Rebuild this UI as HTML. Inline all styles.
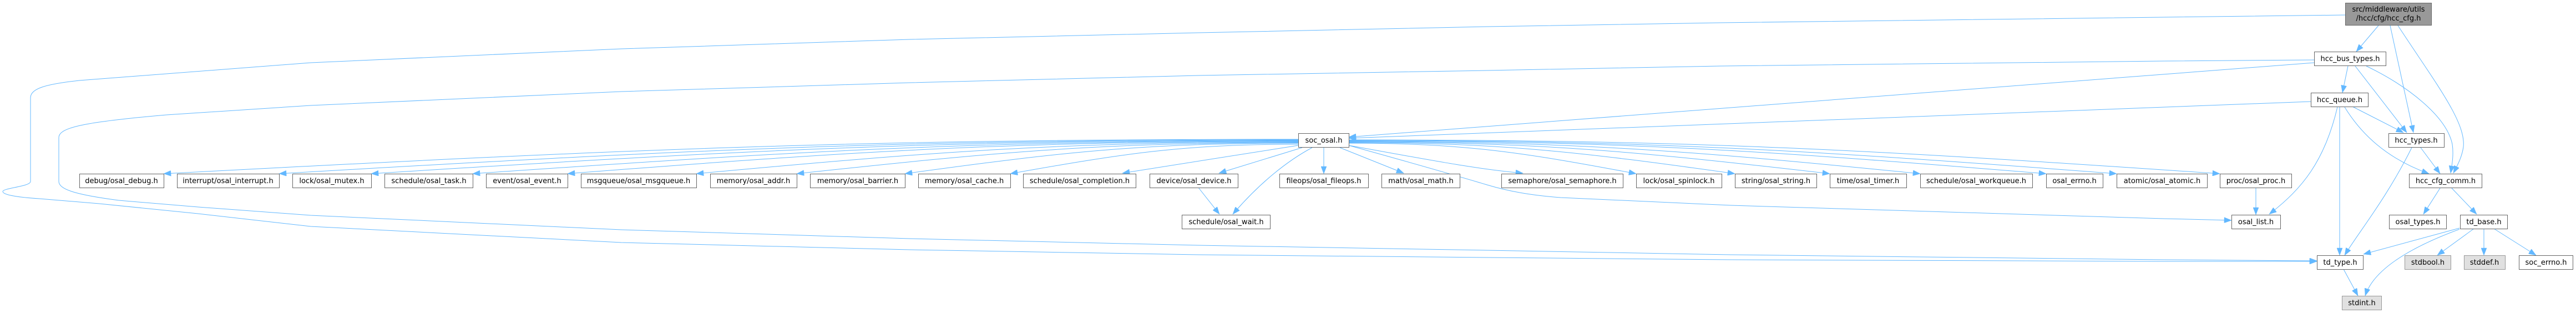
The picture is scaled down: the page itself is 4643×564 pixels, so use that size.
<!DOCTYPE html>
<html>
<head>
<meta charset="utf-8">
<style>
html,body{margin:0;padding:0;background:#fff;}
svg{display:block;}
text{font-family:"DejaVu Sans","Liberation Sans",sans-serif;font-size:13px;fill:#000;text-anchor:middle;}
.e{fill:none;stroke:#63b8ff;stroke-width:1;marker-end:url(#ah);}
.n{fill:#fff;stroke:#666;stroke-width:1;}
.g{fill:#e0e0e0;stroke:#999;stroke-width:1;}
.m{fill:#999;stroke:#666;stroke-width:1;}
</style>
</head>
<body>
<svg width="4643" height="564" viewBox="0 0 4643 564" xmlns="http://www.w3.org/2000/svg">
<defs>
<marker id="ah" markerUnits="userSpaceOnUse" markerWidth="14" markerHeight="10" viewBox="0 0 13 10" refX="13" refY="5" orient="auto">
<path d="M0,0 L13,5 L0,10 z" fill="#63b8ff" stroke="#63b8ff" stroke-width="0.5"/>
</marker>
</defs>

<!-- edges -->
<path class="e" d="M4287,46 L4247,93"/>
<path class="e" d="M4308,46 L4350,239"/>
<path class="e" d="M4322,46 C4390,150 4445,220 4440,265 C4437,285 4428,300 4422,312"/>
<path class="e" d="M4227,27 L3900,31 L3100,41 L2680,48 L2160,59 L1640,71 L1120,88 L560,113 L143,145 C80,152 55,160 55,176 L55,327 C55,336 5,339 5,345 C5,352 40,356 71,358 L179,367 L357,385 L560,408 L1120,437 L1640,450 L2160,459 L2680,464 L3120,468 L3900,471 L4176,471"/>
<path class="e" d="M4171,108 L3900,110 L3100,119 L2680,127 L2160,136 L1640,149 L1120,165 L560,190 L300,207 C150,220 106,230 106,248 L106,327 C106,340 130,350 214,361 L357,373 L560,388 L1120,414 L1640,430 L2160,442 L2680,451 L3120,459 L3900,468 L4176,470"/>
<path class="e" d="M4232,119 L4222,167"/>
<path class="e" d="M4245,119 L4338,239"/>
<path class="e" d="M4265,119 C4340,155 4410,210 4420,260 C4423,280 4419,300 4417,312"/>
<path class="e" d="M4171,113 L2431,247"/>
<path class="e" d="M4165,183 L2431,249"/>
<path class="e" d="M4240,192 L4332,239"/>
<path class="e" d="M4226,193 C4255,240 4300,285 4378,313"/>
<path class="e" d="M4217,192 L4217,460"/>
<path class="e" d="M4213,193 C4190,290 4150,340 4090,386"/>
<path class="e" d="M4363,266 L4398,313"/>
<path class="e" d="M4347,266 C4300,360 4250,420 4226,460"/>
<path class="e" d="M4398,339 L4368,386"/>
<path class="e" d="M4419,339 L4464,386"/>
<path class="e" d="M4433,411 L4260,458"/>
<path class="e" d="M4433,413 C4360,440 4280,480 4263,533"/>
<path class="e" d="M4459,412 L4393,460"/>
<path class="e" d="M4477,412 L4477,460"/>
<path class="e" d="M4495,412 L4571,460"/>
<path class="e" d="M4224,485 L4250,533"/>
<path class="e" d="M4066,338 L4066,387"/>
<path class="e" d="M2431,262 C2550,295 2620,315 2680,333 C2720,345 2760,352 2813,356 L3120,370 L3900,394 L4022,397"/>
<path class="e" d="M2347,266 L2197,312"/>
<path class="e" d="M2365,266 C2320,290 2270,330 2222,386"/>
<path class="e" d="M2386,266 L2386,313"/>
<path class="e" d="M2415,266 L2530,312"/>
<path class="e" d="M2160,338 L2198,386"/>
<path class="e" d="M2340,262 L2023,312"/>
<!-- soc_osal to left row -->
<path class="e" d="M2340,251 C1522,251 1113,270 295,313"/>
<path class="e" d="M2340,252 C1605,252 1238,270 503,313"/>
<path class="e" d="M2340,253 C1672,253 1337,271 669,313"/>
<path class="e" d="M2340,254 C1745,254 1447,272 852,313"/>
<path class="e" d="M2340,255 C1813,255 1550,272 1023,313"/>
<path class="e" d="M2340,256 C1906,256 1689,273 1255,313"/>
<path class="e" d="M2340,257 C1978,257 1798,274 1436,313"/>
<path class="e" d="M2340,258 C2056,258 1915,274 1631,313"/>
<path class="e" d="M2340,260 C2132,260 2029,276 1821,313"/>
<!-- soc_osal to right row -->
<path class="e" d="M2431,262 C2560,285 2660,305 2745,312"/>
<path class="e" d="M2431,258 C2638,258 2742,274 2949,313"/>
<path class="e" d="M2431,257 C2709,257 2849,274 3127,313"/>
<path class="e" d="M2431,256 C2778,256 2951,273 3298,313"/>
<path class="e" d="M2431,255 C2843,255 3049,272 3461,313"/>
<path class="e" d="M2431,254 C2934,254 3185,272 3688,313"/>
<path class="e" d="M2431,253 C2985,253 3261,271 3815,313"/>
<path class="e" d="M2431,252 C3059,252 3373,270 4001,313"/>

<!-- nodes -->
<rect class="m" x="4227.5" y="5.5" width="155" height="40"/>
<text x="4305" y="21">src/middleware/utils</text>
<text x="4305" y="37">/hcc/cfg/hcc_cfg.h</text>

<rect class="n" x="4171.5" y="93.5" width="129" height="25"/><text x="4236" y="110">hcc_bus_types.h</text>
<rect class="n" x="4165.5" y="167.5" width="103" height="25"/><text x="4217" y="184">hcc_queue.h</text>
<rect class="n" x="4305.5" y="240.5" width="100" height="25"/><text x="4355" y="257">hcc_types.h</text>
<rect class="n" x="2340.5" y="240.5" width="91" height="25"/><text x="2386" y="257">soc_osal.h</text>

<rect class="n" x="143.5" y="313.5" width="152" height="25"/><text x="219" y="330">debug/osal_debug.h</text>
<rect class="n" x="319.5" y="313.5" width="184" height="25"/><text x="411" y="330">interrupt/osal_interrupt.h</text>
<rect class="n" x="527.5" y="313.5" width="142" height="25"/><text x="598" y="330">lock/osal_mutex.h</text>
<rect class="n" x="693.5" y="313.5" width="159" height="25"/><text x="773" y="330">schedule/osal_task.h</text>
<rect class="n" x="876.5" y="313.5" width="147" height="25"/><text x="950" y="330">event/osal_event.h</text>
<rect class="n" x="1047.5" y="313.5" width="208" height="25"/><text x="1151" y="330">msgqueue/osal_msgqueue.h</text>
<rect class="n" x="1280.5" y="313.5" width="156" height="25"/><text x="1358" y="330">memory/osal_addr.h</text>
<rect class="n" x="1460.5" y="313.5" width="171" height="25"/><text x="1546" y="330">memory/osal_barrier.h</text>
<rect class="n" x="1655.5" y="313.5" width="166" height="25"/><text x="1738" y="330">memory/osal_cache.h</text>
<rect class="n" x="1844.5" y="313.5" width="203" height="25"/><text x="1946" y="330">schedule/osal_completion.h</text>
<rect class="n" x="2072.5" y="313.5" width="159" height="25"/><text x="2152" y="330">device/osal_device.h</text>
<rect class="n" x="2306.5" y="313.5" width="160" height="25"/><text x="2386" y="330">fileops/osal_fileops.h</text>
<rect class="n" x="2490.5" y="313.5" width="141" height="25"/><text x="2561" y="330">math/osal_math.h</text>
<rect class="n" x="2706.5" y="313.5" width="219" height="25"/><text x="2816" y="330">semaphore/osal_semaphore.h</text>
<rect class="n" x="2949.5" y="313.5" width="154" height="25"/><text x="3026" y="330">lock/osal_spinlock.h</text>
<rect class="n" x="3127.5" y="313.5" width="147" height="25"/><text x="3201" y="330">string/osal_string.h</text>
<rect class="n" x="3298.5" y="313.5" width="138" height="25"/><text x="3367" y="330">time/osal_timer.h</text>
<rect class="n" x="3461.5" y="313.5" width="202" height="25"/><text x="3562" y="330">schedule/osal_workqueue.h</text>
<rect class="n" x="3688.5" y="313.5" width="102" height="25"/><text x="3739" y="330">osal_errno.h</text>
<rect class="n" x="3815.5" y="313.5" width="163" height="25"/><text x="3897" y="330">atomic/osal_atomic.h</text>
<rect class="n" x="4001.5" y="313.5" width="129" height="25"/><text x="4066" y="330">proc/osal_proc.h</text>
<rect class="n" x="4342.5" y="313.5" width="131" height="25"/><text x="4408" y="330">hcc_cfg_comm.h</text>

<rect class="n" x="2130.5" y="387.5" width="159" height="25"/><text x="2210" y="404">schedule/osal_wait.h</text>
<rect class="n" x="4022.5" y="387.5" width="88" height="25"/><text x="4066" y="404">osal_list.h</text>
<rect class="n" x="4306.5" y="387.5" width="103" height="25"/><text x="4358" y="404">osal_types.h</text>
<rect class="n" x="4434.5" y="387.5" width="85" height="25"/><text x="4477" y="404">td_base.h</text>

<rect class="n" x="4176.5" y="460.5" width="83" height="25"/><text x="4218" y="477">td_type.h</text>
<rect class="g" x="4334.5" y="460.5" width="83" height="25"/><text x="4376" y="477">stdbool.h</text>
<rect class="g" x="4441.5" y="460.5" width="74" height="25"/><text x="4478" y="477">stddef.h</text>
<rect class="n" x="4540.5" y="460.5" width="97" height="25"/><text x="4589" y="477">soc_errno.h</text>

<rect class="g" x="4221.5" y="533.5" width="71" height="25"/><text x="4257" y="550">stdint.h</text>
</svg>
</body>
</html>
